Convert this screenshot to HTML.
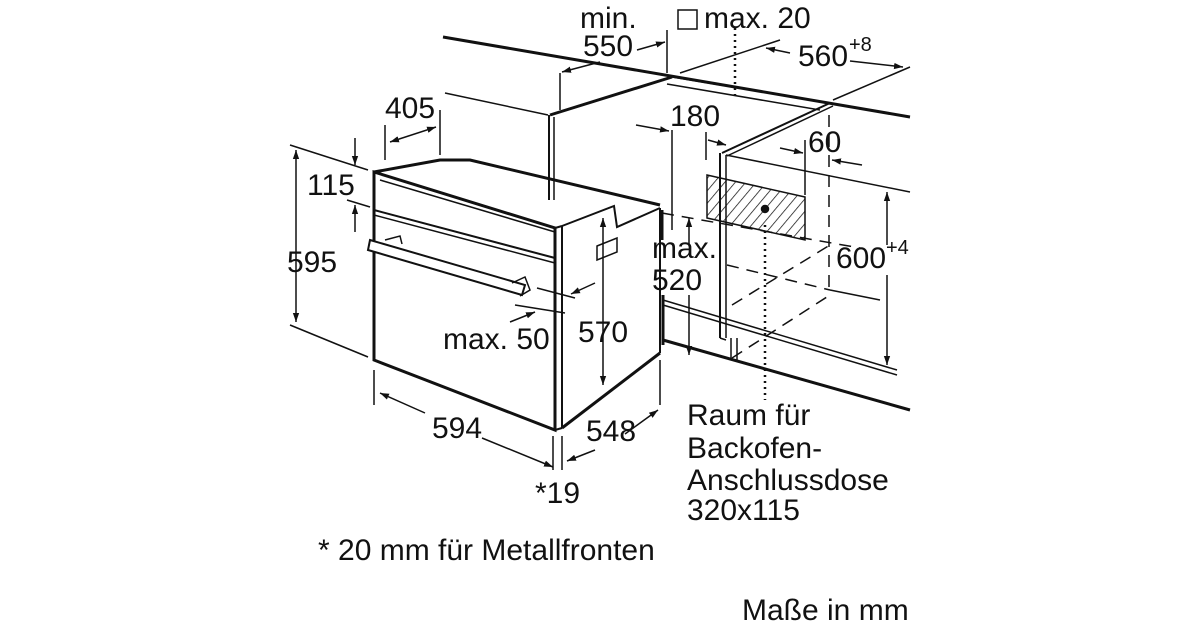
<!DOCTYPE html>
<html><head><meta charset="utf-8"><style>
html,body{margin:0;padding:0;background:#fff;}
svg{display:block}
text{font-family:"Liberation Sans",sans-serif;font-size:30px;fill:#111}
</style></head><body>
<svg width="1200" height="630" viewBox="0 0 1200 630" xmlns="http://www.w3.org/2000/svg">
<defs>
<marker id="a" viewBox="0 0 10 10" refX="10" refY="5" markerWidth="9" markerHeight="9" orient="auto-start-reverse" markerUnits="userSpaceOnUse"><path d="M0,1.5 L10,5 L0,8.5z" fill="#111"/></marker>
<pattern id="h" width="8" height="8" patternUnits="userSpaceOnUse" patternTransform="rotate(40)"><line x1="0" y1="0" x2="0" y2="8" stroke="#111" stroke-width="1.5"/></pattern>
</defs>
<g stroke="#111" fill="none" stroke-width="1.5">
<line x1="443" y1="37" x2="910" y2="117" stroke-width="3"/>
<line x1="550" y1="115" x2="672" y2="77" stroke-width="3"/>
<line x1="672" y1="77" x2="830" y2="103"/>
<line x1="667" y1="84" x2="820" y2="110"/>
<line x1="833" y1="100" x2="910" y2="67"/>
<line x1="680" y1="73" x2="780" y2="40"/>
<line x1="549" y1="115" x2="549" y2="200" stroke-width="2"/>
<line x1="554" y1="117" x2="554" y2="200"/>
<polyline points="722,153 830,103" stroke-width="2"/>
<line x1="727" y1="156" x2="833" y2="106"/>
<line x1="720" y1="153" x2="720" y2="338" stroke-width="2"/>
<line x1="726" y1="155" x2="726" y2="338"/>
<line x1="720" y1="338" x2="726" y2="340"/>
<line x1="731" y1="338" x2="731" y2="360"/>
<line x1="737" y1="338" x2="737" y2="360"/>
<line x1="726" y1="155" x2="910" y2="192"/>
<polygon points="707,175 805,197 805,240 707,218" fill="url(#h)"/>
<circle cx="765" cy="209" r="3.5" fill="#111"/>
<line x1="663" y1="300" x2="897" y2="370"/>
<line x1="663" y1="305" x2="897" y2="375"/>
<line x1="663" y1="340" x2="910" y2="410" stroke-width="3"/>
<line x1="662" y1="213" x2="860" y2="248" stroke-dasharray="12,8"/>
<line x1="727" y1="265" x2="830" y2="290" stroke-dasharray="12,8"/>
<line x1="830" y1="290" x2="880" y2="300" />
<line x1="732" y1="305" x2="830" y2="245" stroke-dasharray="12,8"/>
<line x1="732" y1="358" x2="830" y2="295" stroke-dasharray="12,8"/>
<line x1="829" y1="115" x2="829" y2="295" stroke-dasharray="12,8"/>
<polygon points="374,172 555,228 555,430 374,360" stroke-width="3" fill="#fff"/>
<line x1="555" y1="228" x2="562" y2="226" stroke-width="2"/>
<line x1="562" y1="226" x2="562" y2="428" stroke-width="2"/>
<line x1="555" y1="430" x2="562" y2="428" stroke-width="2"/>
<polyline points="562,428 660,353" stroke-width="3"/>
<polyline points="374,172 440,160 470,160 660,205" stroke-width="3"/>
<polyline points="562,226 614,206 617,227 660,208" stroke-width="2"/>
<line x1="660" y1="208" x2="660" y2="353" stroke-width="2"/>
<line x1="662" y1="210" x2="662" y2="240" stroke-width="3"/>
<line x1="374" y1="210" x2="555" y2="258" stroke-width="2"/>
<line x1="374" y1="215" x2="555" y2="263"/>
<line x1="380" y1="180" x2="555" y2="232"/>
<path d="M370,240 L525,285 L522,295 L368,250 Z" fill="#fff" stroke-width="2"/>
<path d="M385,240 L400,236 L402,244" />
<path d="M512,283 L525,277 L530,290 L520,296"/>
<polygon points="597,246 617,238 617,252 597,260"/>
<line x1="355" y1="138" x2="355" y2="165" marker-end="url(#a)"/>
<line x1="355" y1="232" x2="355" y2="205" marker-end="url(#a)"/>
<line x1="347" y1="200" x2="370" y2="207"/>
<line x1="290" y1="145" x2="368" y2="170"/>
<line x1="290" y1="325" x2="368" y2="357"/>
<line x1="296" y1="150" x2="296" y2="322" marker-start="url(#a)" marker-end="url(#a)"/>
<line x1="385" y1="125" x2="385" y2="160"/>
<line x1="440" y1="110" x2="440" y2="155"/>
<line x1="390" y1="142" x2="436" y2="127" marker-start="url(#a)" marker-end="url(#a)"/>
<line x1="445" y1="93" x2="548" y2="115"/>
<line x1="374" y1="370" x2="374" y2="405"/>
<line x1="380" y1="393" x2="425" y2="413" marker-start="url(#a)"/>
<line x1="482" y1="438" x2="553" y2="467" marker-end="url(#a)"/>
<line x1="553" y1="436" x2="553" y2="470"/>
<line x1="562" y1="436" x2="562" y2="470"/>
<line x1="660" y1="360" x2="660" y2="405"/>
<line x1="567" y1="461" x2="595" y2="450" marker-start="url(#a)"/>
<line x1="625" y1="434" x2="658" y2="410" marker-end="url(#a)"/>
<line x1="603" y1="218" x2="603" y2="385" marker-start="url(#a)" marker-end="url(#a)"/>
<line x1="537" y1="288" x2="575" y2="298"/>
<line x1="595" y1="283" x2="571" y2="294" marker-end="url(#a)"/>
<line x1="515" y1="305" x2="565" y2="313"/>
<line x1="510" y1="322" x2="535" y2="312" marker-end="url(#a)"/>
<line x1="672" y1="130" x2="672" y2="230"/>
<line x1="636" y1="125" x2="669" y2="131" marker-end="url(#a)"/>
<line x1="689" y1="245" x2="689" y2="218" marker-end="url(#a)"/>
<line x1="689" y1="295" x2="689" y2="355" marker-end="url(#a)"/>
<line x1="663" y1="295" x2="663" y2="345" stroke-width="3"/>
<line x1="706" y1="132" x2="706" y2="160"/>
<line x1="708" y1="140" x2="726" y2="145" marker-end="url(#a)"/>
<line x1="805" y1="140" x2="805" y2="195"/>
<line x1="780" y1="148" x2="803" y2="153" marker-end="url(#a)"/>
<line x1="862" y1="165" x2="832" y2="160" marker-end="url(#a)"/>
<line x1="887" y1="192" x2="887" y2="245" marker-start="url(#a)"/>
<line x1="887" y1="275" x2="887" y2="365" marker-end="url(#a)"/>
<line x1="667" y1="30" x2="667" y2="73"/>
<line x1="560" y1="73" x2="560" y2="110"/>
<line x1="600" y1="62" x2="562" y2="72" marker-end="url(#a)"/>
<line x1="637" y1="50" x2="665" y2="42" marker-end="url(#a)"/>
<line x1="790" y1="53" x2="766" y2="48" marker-end="url(#a)"/>
<line x1="850" y1="61" x2="903" y2="67" marker-end="url(#a)"/>
<line x1="735" y1="28" x2="735" y2="95" stroke-dasharray="2,4" stroke-width="2.5"/>
<line x1="765" y1="225" x2="765" y2="400" stroke-dasharray="2,4" stroke-width="2.5"/>
<rect x="678" y="10" width="19" height="19"/>
</g>
<text x="580" y="28">min.</text>
<text x="583" y="56">550</text>
<text x="704" y="28">max. 20</text>
<text x="798" y="66">560</text><text x="849" y="51" style="font-size:20px">+8</text>
<text x="385" y="118">405</text>
<text x="670" y="126">180</text>
<text x="808" y="152">60</text>
<text x="307" y="195">115</text>
<text x="287" y="272">595</text>
<text x="652" y="258">max.</text>
<text x="652" y="290">520</text>
<text x="836" y="268">600</text><text x="886" y="254" style="font-size:20px">+4</text>
<text x="578" y="342">570</text>
<text x="443" y="349">max. 50</text>
<text x="432" y="438">594</text>
<text x="586" y="441">548</text>
<text x="535" y="503">*19</text>
<text x="687" y="425">Raum für</text>
<text x="687" y="458">Backofen-</text>
<text x="687" y="490">Anschlussdose</text>
<text x="687" y="520">320x115</text>
<text x="318" y="560">* 20 mm für Metallfronten</text>
<text x="742" y="620">Maße in mm</text>
</svg>
</body></html>
